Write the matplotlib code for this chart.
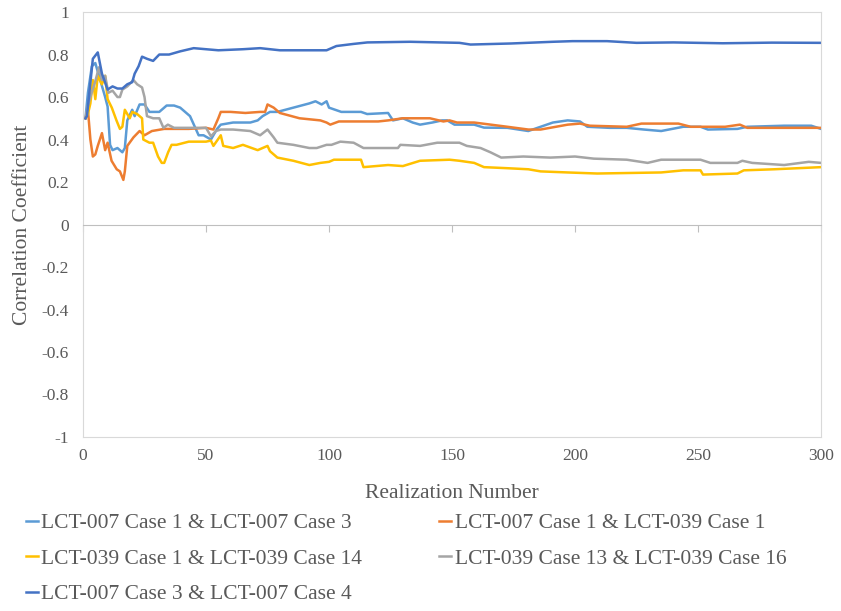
import numpy as np
import matplotlib
matplotlib.use("Agg")
import matplotlib.pyplot as plt
from matplotlib.ticker import FuncFormatter, MultipleLocator

plt.rcParams['font.family'] = ['Liberation Serif', 'DejaVu Serif']

# series labels and colours
labels = [
    "LCT-007 Case 1 & LCT-007 Case 3",
    "LCT-007 Case 1 & LCT-039 Case 1",
    "LCT-039 Case 1 & LCT-039 Case 14",
    "LCT-039 Case 13 & LCT-039 Case 16",
    "LCT-007 Case 3 & LCT-007 Case 4",
]
colors = ["#5B9BD5", "#ED7D31", "#FFC000", "#A5A5A5", "#4472C4"]

xticks = [0, 50, 100, 150, 200, 250, 300]

# LCT-007 Case 1 & LCT-007 Case 3
x1 = [1, 2, 3.6, 5, 6, 7.5, 9, 10, 11, 12, 14, 16, 17, 18, 20, 21, 23, 25, 27, 31,
      34, 37, 39.5, 43.5, 47, 49, 52, 54.5, 56, 61, 68, 71, 73, 76, 79, 85.5, 92, 94.5,
      97, 99, 100, 105, 109, 113, 115.5, 124, 126, 130, 134, 137, 142, 146, 148, 151,
      159, 163, 172.5, 181, 186, 191, 197, 202, 205, 214, 221, 228, 235, 244, 251, 254,
      266, 270, 285, 296, 300]
y1 = [0.50, 0.62, 0.745, 0.76, 0.72, 0.66, 0.60, 0.555, 0.375, 0.35, 0.36, 0.34, 0.36,
      0.49, 0.54, 0.51, 0.565, 0.565, 0.53, 0.53, 0.56, 0.56, 0.55, 0.51, 0.42, 0.42,
      0.40, 0.45, 0.47, 0.48, 0.48, 0.49, 0.51, 0.53, 0.53, 0.55, 0.57, 0.58, 0.565,
      0.58, 0.55, 0.53, 0.53, 0.53, 0.52, 0.525, 0.49, 0.50, 0.48, 0.47, 0.48, 0.49,
      0.49, 0.47, 0.47, 0.456, 0.455, 0.44, 0.46, 0.48, 0.49, 0.485, 0.46, 0.455,
      0.455, 0.447, 0.44, 0.46, 0.46, 0.447, 0.45, 0.46, 0.465, 0.465, 0.45]

# LCT-007 Case 1 & LCT-039 Case 1
x2 = [1, 2, 3, 4, 5, 6, 7.7, 9, 10, 11.6, 13.7, 15, 16.4, 17, 18, 20.5, 23, 25, 28, 33,
      43, 50, 53, 55, 56, 60, 66, 72, 74, 75, 77.5, 80, 88, 96.5, 99, 100.5, 104, 120,
      124, 130, 137, 141, 146.5, 149, 152, 159, 172.5, 181, 186, 197, 202, 206, 221,
      227, 242, 247, 261, 267, 270, 285, 300]
y2 = [0.50, 0.54, 0.40, 0.32, 0.33, 0.37, 0.43, 0.35, 0.385, 0.30, 0.26, 0.25, 0.21,
      0.25, 0.37, 0.41, 0.44, 0.42, 0.44, 0.45, 0.45, 0.455, 0.447, 0.50, 0.53, 0.53,
      0.525, 0.53, 0.53, 0.565, 0.55, 0.525, 0.50, 0.49, 0.48, 0.47, 0.485, 0.485,
      0.49, 0.50, 0.50, 0.50, 0.485, 0.49, 0.48, 0.48, 0.46, 0.447, 0.447, 0.47,
      0.475, 0.465, 0.46, 0.475, 0.475, 0.46, 0.46, 0.47, 0.455, 0.455, 0.455]

# LCT-039 Case 1 & LCT-039 Case 14
x3 = [1, 2, 3, 4, 5, 6, 7.7, 9, 10, 11.7, 13.6, 15, 16, 17, 19, 20, 22, 24, 24.5, 27,
      28.5, 30.5, 32, 33, 34.6, 36, 38, 43, 50, 52, 53, 56, 57, 61, 65, 71, 75, 76, 79,
      85.5, 92, 96.5, 100, 102, 111, 113, 114, 124, 130, 137, 149, 153, 159, 163, 172.5,
      181, 186, 197, 209, 235, 244, 251, 252, 266, 268.6, 281, 300]
y3 = [0.50, 0.52, 0.57, 0.68, 0.59, 0.70, 0.66, 0.70, 0.59, 0.55, 0.49, 0.45, 0.46,
      0.54, 0.50, 0.53, 0.52, 0.50, 0.40, 0.385, 0.385, 0.32, 0.29, 0.29, 0.34, 0.375,
      0.375, 0.39, 0.39, 0.395, 0.37, 0.42, 0.37, 0.36, 0.375, 0.35, 0.37, 0.345,
      0.315, 0.30, 0.28, 0.29, 0.295, 0.305, 0.305, 0.305, 0.27, 0.28, 0.275, 0.30,
      0.305, 0.30, 0.29, 0.27, 0.265, 0.26, 0.25, 0.245, 0.24, 0.245, 0.255, 0.255,
      0.235, 0.24, 0.255, 0.26, 0.27]

# LCT-039 Case 13 & LCT-039 Case 16
x4 = [1, 2, 3.5, 4.9, 6.5, 7.7, 9, 10.3, 12, 14, 15, 16, 18, 20.5, 22, 24, 25, 26, 28.5,
      31, 32.7, 34.5, 37, 50, 52, 54, 56, 61, 68, 72, 75, 77.5, 79, 85.5, 92, 95, 99,
      101, 104.6, 110, 114, 128, 129, 137, 144, 153, 156, 161.6, 165.6, 170, 179, 190,
      200, 207.6, 221, 229.5, 235, 251, 255, 266, 268, 272, 285, 295, 300]
y4 = [0.50, 0.56, 0.62, 0.67, 0.74, 0.68, 0.70, 0.62, 0.63, 0.60, 0.60, 0.635, 0.65,
      0.68, 0.66, 0.645, 0.60, 0.51, 0.50, 0.50, 0.455, 0.47, 0.455, 0.455, 0.415,
      0.44, 0.447, 0.447, 0.44, 0.42, 0.447, 0.41, 0.385, 0.375, 0.36, 0.36, 0.375,
      0.375, 0.39, 0.385, 0.36, 0.36, 0.375, 0.37, 0.385, 0.385, 0.37, 0.36, 0.34,
      0.315, 0.32, 0.315, 0.32, 0.31, 0.305, 0.29, 0.305, 0.305, 0.29, 0.29, 0.30,
      0.29, 0.28, 0.295, 0.29]

# LCT-007 Case 3 & LCT-007 Case 4
x5 = [1, 1.6, 4, 6, 7.7, 10, 12, 14, 16, 18, 20, 21, 22.6, 24, 26, 28.5, 31, 35, 39.5,
      45, 55, 65, 72, 80, 89, 95, 99, 103, 110, 115.6, 133, 153, 157.5, 174, 191, 199,
      213, 225, 240, 260, 280, 300]
y5 = [0.50, 0.51, 0.78, 0.81, 0.71, 0.635, 0.65, 0.64, 0.64, 0.66, 0.67, 0.71, 0.745,
      0.79, 0.78, 0.77, 0.80, 0.80, 0.815, 0.83, 0.82, 0.825, 0.83, 0.82, 0.82, 0.82,
      0.82, 0.84, 0.85, 0.857, 0.86, 0.855, 0.847, 0.852, 0.86, 0.863, 0.863, 0.855,
      0.857, 0.853, 0.856, 0.855]

xs = [x1, x2, x3, x4, x5]
ys = [y1, y2, y3, y4, y5]

text_c = "#595959"

fig = plt.figure(figsize=(8.41, 6.11), dpi=100)
ax = fig.add_axes([0.0987, 0.2848, 0.8776, 0.6955])

lines = []
for x, y, c, lab in zip(xs, ys, colors, labels):
    ln, = ax.plot(x, y, color=c, lw=1.8, label=lab, solid_joinstyle="round")
    lines.append(ln)

ax.set_xlim(0, 300)
ax.set_ylim(-1, 1)
ax.set_xticks(xticks)
ax.yaxis.set_major_locator(MultipleLocator(0.2))
ax.yaxis.set_major_formatter(FuncFormatter(lambda v, p: "{:g}".format(round(v, 1))))

# horizontal axis sits at y = 0, its labels go along the bottom edge
ax.spines["bottom"].set_position(("data", 0))
ax.spines["bottom"].set_color("#BFBFBF")
for s in ["top", "left", "right"]:
    ax.spines[s].set_color("#D9D9D9")
ax.tick_params(axis="x", direction="out", length=5, color="#BFBFBF", labelbottom=False)
ax.tick_params(axis="y", length=0, labelsize=12.5, labelcolor=text_c, pad=10)

sec = ax.secondary_xaxis("bottom")
sec.set_xticks(xticks)
sec.spines["bottom"].set_color("#D9D9D9")
sec.tick_params(length=0, labelsize=12.5, labelcolor=text_c, pad=8)
sec.set_xlabel("Realization Number", fontsize=15.5, color=text_c, labelpad=14)

ax.set_ylabel("Correlation Coefficient", fontsize=15.5, color=text_c, labelpad=7)

order = [0, 2, 4, 1, 3]
fig.legend([lines[i] for i in order], [labels[i] for i in order],
           loc="upper left", bbox_to_anchor=(0.018, 0.178), ncol=2,
           frameon=False, fontsize=15.5, borderpad=0, handlelength=0.55,
           handletextpad=0.15, labelspacing=0.72, columnspacing=3.6,
           labelcolor=text_c)

fig.savefig("out.png", dpi=100)
